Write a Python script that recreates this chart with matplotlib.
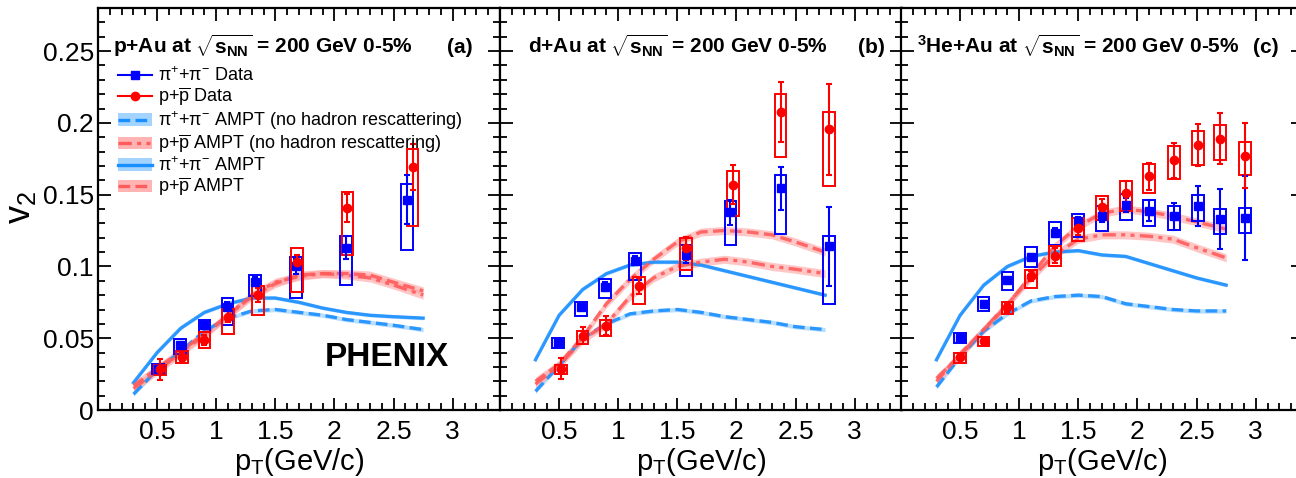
import numpy as np
import matplotlib
matplotlib.use('Agg')
import matplotlib.pyplot as plt
from matplotlib.lines import Line2D
from matplotlib.patches import Patch
from matplotlib.ticker import MultipleLocator, FuncFormatter

plt.rcParams['font.family'] = ['Liberation Sans', 'DejaVu Sans']
plt.rcParams['mathtext.fontset'] = 'custom'
plt.rcParams['mathtext.rm'] = 'Liberation Sans'
plt.rcParams['mathtext.it'] = 'Liberation Sans:italic'
plt.rcParams['mathtext.bf'] = 'Liberation Sans:bold'
plt.rcParams['mathtext.default'] = 'regular'

# ---- AMPT curves (pT grid shared) ----
ampt_pt = [0.3, 0.5, 0.7, 0.9, 1.1, 1.3, 1.5, 1.7, 1.9, 2.1, 2.3, 2.5, 2.75]

a_pi_ampt = [0.019, 0.040, 0.057, 0.068, 0.074, 0.078, 0.078, 0.075, 0.071, 0.068, 0.066, 0.065, 0.064]
a_pi_nores = [0.011, 0.028, 0.041, 0.055, 0.064, 0.069, 0.070, 0.068, 0.066, 0.063, 0.061, 0.059, 0.056]
a_p_ampt = [0.017, 0.029, 0.041, 0.053, 0.066, 0.079, 0.088, 0.094, 0.095, 0.095, 0.094, 0.089, 0.083]
a_p_nores = [0.015, 0.027, 0.040, 0.052, 0.066, 0.080, 0.089, 0.093, 0.095, 0.094, 0.092, 0.087, 0.080]

b_pi_ampt = [0.035, 0.066, 0.084, 0.095, 0.101, 0.103, 0.103, 0.101, 0.097, 0.093, 0.089, 0.085, 0.080]
b_pi_nores = [0.013, 0.031, 0.050, 0.060, 0.067, 0.069, 0.070, 0.068, 0.065, 0.063, 0.061, 0.058, 0.056]
b_p_ampt = [0.020, 0.032, 0.051, 0.074, 0.091, 0.105, 0.117, 0.124, 0.125, 0.124, 0.122, 0.117, 0.110]
b_p_nores = [0.018, 0.031, 0.049, 0.060, 0.079, 0.092, 0.100, 0.103, 0.105, 0.103, 0.100, 0.098, 0.095]

c_pi_ampt = [0.035, 0.066, 0.087, 0.100, 0.107, 0.110, 0.111, 0.108, 0.107, 0.102, 0.097, 0.092, 0.087]
c_pi_nores = [0.016, 0.037, 0.055, 0.067, 0.076, 0.079, 0.080, 0.079, 0.074, 0.072, 0.070, 0.069, 0.069]
c_p_ampt = [0.020, 0.039, 0.056, 0.073, 0.094, 0.114, 0.128, 0.137, 0.140, 0.138, 0.135, 0.131, 0.126]
c_p_nores = [0.022, 0.038, 0.056, 0.074, 0.092, 0.108, 0.119, 0.122, 0.122, 0.121, 0.119, 0.113, 0.106]

# ---- Data: p+Au ----
a_pi_pt = [0.51, 0.695, 0.90, 1.095, 1.33, 1.675, 2.10, 2.615]
a_pi_v = [0.0284, 0.0453, 0.059, 0.072, 0.0895, 0.100, 0.113, 0.1464]
a_pi_stat = [0.002, 0.002, 0.002, 0.003, 0.003, 0.005, 0.008, 0.017]
a_pi_sys_lo = [0.0249, 0.039, 0.0546, 0.0593, 0.0797, 0.0779, 0.0872, 0.1116]
a_pi_sys_hi = [0.0319, 0.0495, 0.0628, 0.0779, 0.0941, 0.1065, 0.1209, 0.1574]

a_p_pt = [0.525, 0.71, 0.90, 1.10, 1.35, 1.68, 2.11, 2.66]
a_p_v = [0.0284, 0.037, 0.049, 0.065, 0.080, 0.1034, 0.1406, 0.169]
a_p_stat = [0.0073, 0.003, 0.0035, 0.004, 0.005, 0.0045, 0.010, 0.016]
a_p_sys_lo = [0.0244, 0.033, 0.043, 0.053, 0.0662, 0.0825, 0.108, 0.1283]
a_p_sys_hi = [0.0314, 0.0414, 0.0542, 0.0702, 0.0867, 0.1128, 0.1515, 0.1818]

# ---- Data: d+Au ----
b_pi_pt = [0.49, 0.686, 0.887, 1.144, 1.573, 1.949, 2.373, 2.78]
b_pi_v = [0.0465, 0.0714, 0.086, 0.104, 0.108, 0.1376, 0.1546, 0.1139]
b_pi_stat = [0.002, 0.002, 0.003, 0.003, 0.0055, 0.009, 0.015, 0.0274]
b_pi_sys_lo = [0.043, 0.0656, 0.0783, 0.0907, 0.093, 0.115, 0.1227, 0.0737]
b_pi_sys_hi = [0.050, 0.0755, 0.0911, 0.1093, 0.1146, 0.1453, 0.1639, 0.1209]

b_p_pt = [0.514, 0.698, 0.893, 1.178, 1.573, 1.969, 2.373, 2.78]
b_p_v = [0.0286, 0.0518, 0.0586, 0.0865, 0.1127, 0.1569, 0.2076, 0.1957]
b_p_stat = [0.0073, 0.0058, 0.0066, 0.0055, 0.008, 0.0136, 0.0206, 0.0317]
b_p_sys_lo = [0.0251, 0.046, 0.0516, 0.0739, 0.0972, 0.1348, 0.176, 0.1557]
b_p_sys_hi = [0.0314, 0.055, 0.0628, 0.0923, 0.1197, 0.1667, 0.2202, 0.2073]

# ---- Data: 3He+Au ----
c_pt = [0.5, 0.698, 0.90, 1.10, 1.30, 1.50, 1.70, 1.90, 2.10, 2.31, 2.51, 2.70, 2.91]
c_pi_v = [0.0504, 0.0739, 0.0907, 0.1069, 0.1236, 0.1313, 0.1348, 0.143, 0.1388, 0.1348, 0.1423, 0.133, 0.1337]
c_pi_stat = [0.0015, 0.002, 0.002, 0.002, 0.003, 0.003, 0.004, 0.005, 0.0075, 0.0095, 0.014, 0.021, 0.0295]
c_pi_sys_lo = [0.0469, 0.069, 0.0837, 0.0995, 0.115, 0.1202, 0.1248, 0.1325, 0.1283, 0.1255, 0.1318, 0.1227, 0.1236]
c_pi_sys_hi = [0.0535, 0.0786, 0.0958, 0.1132, 0.1306, 0.1365, 0.1423, 0.1504, 0.1464, 0.1418, 0.150, 0.140, 0.1406]

c_p_v = [0.0367, 0.0481, 0.0716, 0.0934, 0.1076, 0.1267, 0.1413, 0.151, 0.1627, 0.1739, 0.1846, 0.189, 0.1771]
c_p_stat = [0.0015, 0.002, 0.003, 0.0035, 0.005, 0.005, 0.006, 0.0085, 0.0095, 0.0124, 0.0148, 0.0176, 0.0227]
c_p_sys_lo = [0.0326, 0.0446, 0.0667, 0.0853, 0.1006, 0.1174, 0.132, 0.1383, 0.1511, 0.1611, 0.1704, 0.1743, 0.1639]
c_p_sys_hi = [0.040, 0.0511, 0.0755, 0.0976, 0.1139, 0.1337, 0.1492, 0.1592, 0.1715, 0.1836, 0.1941, 0.1987, 0.1864]

titles = [r'p+Au at $\sqrt{\mathbf{s}_{\mathbf{NN}}}$ = 200 GeV 0-5%',
          r'd+Au at $\sqrt{\mathbf{s}_{\mathbf{NN}}}$ = 200 GeV 0-5%',
          r'$^{\mathbf{3}}$He+Au at $\sqrt{\mathbf{s}_{\mathbf{NN}}}$ = 200 GeV 0-5%']
tags = ['(a)', '(b)', '(c)']

BLUE_L = '#1a8fff'
BLUE_B = '#8cc8ff'
RED_L = '#ff5c5c'
RED_B = '#ffa0a0'
DASH = (0, (3.5, 1.6))
DASHDOT = (0, (4, 1.6, 1.2, 1.6, 1.2, 1.6))

panels = [
    dict(pi_ampt=a_pi_ampt, pi_nores=a_pi_nores, p_ampt=a_p_ampt, p_nores=a_p_nores,
         pi=(a_pi_pt, a_pi_v, a_pi_stat, a_pi_sys_lo, a_pi_sys_hi),
         p=(a_p_pt, a_p_v, a_p_stat, a_p_sys_lo, a_p_sys_hi)),
    dict(pi_ampt=b_pi_ampt, pi_nores=b_pi_nores, p_ampt=b_p_ampt, p_nores=b_p_nores,
         pi=(b_pi_pt, b_pi_v, b_pi_stat, b_pi_sys_lo, b_pi_sys_hi),
         p=(b_p_pt, b_p_v, b_p_stat, b_p_sys_lo, b_p_sys_hi)),
    dict(pi_ampt=c_pi_ampt, pi_nores=c_pi_nores, p_ampt=c_p_ampt, p_nores=c_p_nores,
         pi=(c_pt, c_pi_v, c_pi_stat, c_pi_sys_lo, c_pi_sys_hi),
         p=(c_pt, c_p_v, c_p_stat, c_p_sys_lo, c_p_sys_hi)),
]

W, H = 1296, 478
fig = plt.figure(figsize=(W / 100, H / 100), dpi=100)
lefts = [98, 500, 901]
axes = []
for i, left in enumerate(lefts):
    ax = fig.add_axes([left / W, 68 / H, 402 / W, 402 / H])
    axes.append(ax)

x = np.array(ampt_pt)
for i, (ax, pn) in enumerate(zip(axes, panels)):
    # AMPT bands + lines
    for key, lc, bc, ls, hw in [('pi_nores', BLUE_L, BLUE_B, DASH, 0.0015),
                                ('pi_ampt', BLUE_L, BLUE_B, '-', 0.0012),
                                ('p_nores', RED_L, RED_B, DASHDOT, 0.0028),
                                ('p_ampt', RED_L, RED_B, DASH, 0.0028)]:
        y = np.array(pn[key])
        ax.fill_between(x, y - hw, y + hw, color=bc, alpha=0.6, lw=0, zorder=1)
        ax.plot(x, y, color=lc, ls=ls, lw=2.4, alpha=0.9, zorder=2)

    for key, col, mk in [('pi', 'blue', 's'), ('p', 'red', 'o')]:
        pt, v, st, lo, hi = [np.array(a) for a in pn[key]]
        ax.bar(pt, hi - lo, bottom=lo, width=0.1, fill=False, edgecolor=col,
               lw=1.4, zorder=3)
        ax.errorbar(pt, v, yerr=st, fmt=mk, color=col, ms=6, elinewidth=1.5,
                    capsize=2.5, capthick=1.5, zorder=4)

    ax.set_xlim(0, 3.4)
    ax.set_ylim(0, 0.28)
    ax.xaxis.set_major_locator(MultipleLocator(0.5))
    ax.xaxis.set_minor_locator(MultipleLocator(0.1))
    ax.yaxis.set_major_locator(MultipleLocator(0.05))
    ax.yaxis.set_minor_locator(MultipleLocator(0.01))
    ax.xaxis.set_major_formatter(FuncFormatter(lambda v, p: '' if v < 0.01 else '%g' % v))
    ax.yaxis.set_major_formatter(FuncFormatter(lambda v, p: '%g' % v))
    ax.tick_params(which='both', direction='in', top=True, right=True,
                   labelsize=19, width=1.3, pad=7)
    ax.tick_params(which='major', length=9)
    ax.tick_params(which='minor', length=5)
    ax.tick_params(axis='y', pad=3)
    if i > 0:
        ax.tick_params(axis='y', labelleft=False)
    for s in ax.spines.values():
        s.set_linewidth(1.6)
    ax.set_xlabel(r'p$_{\mathregular{T}}$(GeV/c)', fontsize=21, labelpad=2)

    ax.text([0.037, 0.07, 0.04][i], 0.888, titles[i], transform=ax.transAxes,
            fontsize=15, fontweight='bold', va='baseline', ha='left')
    ax.text([0.868, 0.89, 0.876][i], 0.888, tags[i], transform=ax.transAxes,
            fontsize=15, fontweight='bold', va='baseline', ha='left')

axes[0].text(0.565, 0.109, 'PHENIX', transform=axes[0].transAxes, fontsize=24,
             fontweight='bold', va='baseline', ha='left')

fig.text(3 / W, (H - 224) / H, r'v$_{2}$', fontsize=26, rotation=90,
         ha='left', va='bottom')

pi_lab = r'$\pi^{+}$+$\pi^{-}$'
p_lab = r'p+$\overline{\mathrm{p}}$'
handles = [
    Line2D([], [], color='blue', marker='s', ms=6, lw=1.5),
    Line2D([], [], color='red', marker='o', ms=6, lw=1.5),
    (Patch(facecolor=BLUE_B, alpha=0.8, lw=0), Line2D([], [], color=BLUE_L, ls=DASH, lw=2.4)),
    (Patch(facecolor=RED_B, alpha=0.8, lw=0), Line2D([], [], color=RED_L, ls=DASHDOT, lw=2.4)),
    (Patch(facecolor=BLUE_B, alpha=0.8, lw=0), Line2D([], [], color=BLUE_L, ls='-', lw=2.4)),
    (Patch(facecolor=RED_B, alpha=0.8, lw=0), Line2D([], [], color=RED_L, ls=DASH, lw=2.4)),
]
labels = [pi_lab + ' Data', p_lab + ' Data',
          pi_lab + ' AMPT (no hadron rescattering)',
          p_lab + ' AMPT (no hadron rescattering)',
          pi_lab + ' AMPT', p_lab + ' AMPT']
axes[0].legend(handles, labels, loc='upper left', bbox_to_anchor=(0.05, 0.855),
               frameon=False, fontsize=13, handlelength=1.9, handletextpad=0.3,
               labelspacing=0.05, borderpad=0, borderaxespad=0)

fig.savefig('out.png', dpi=100)
